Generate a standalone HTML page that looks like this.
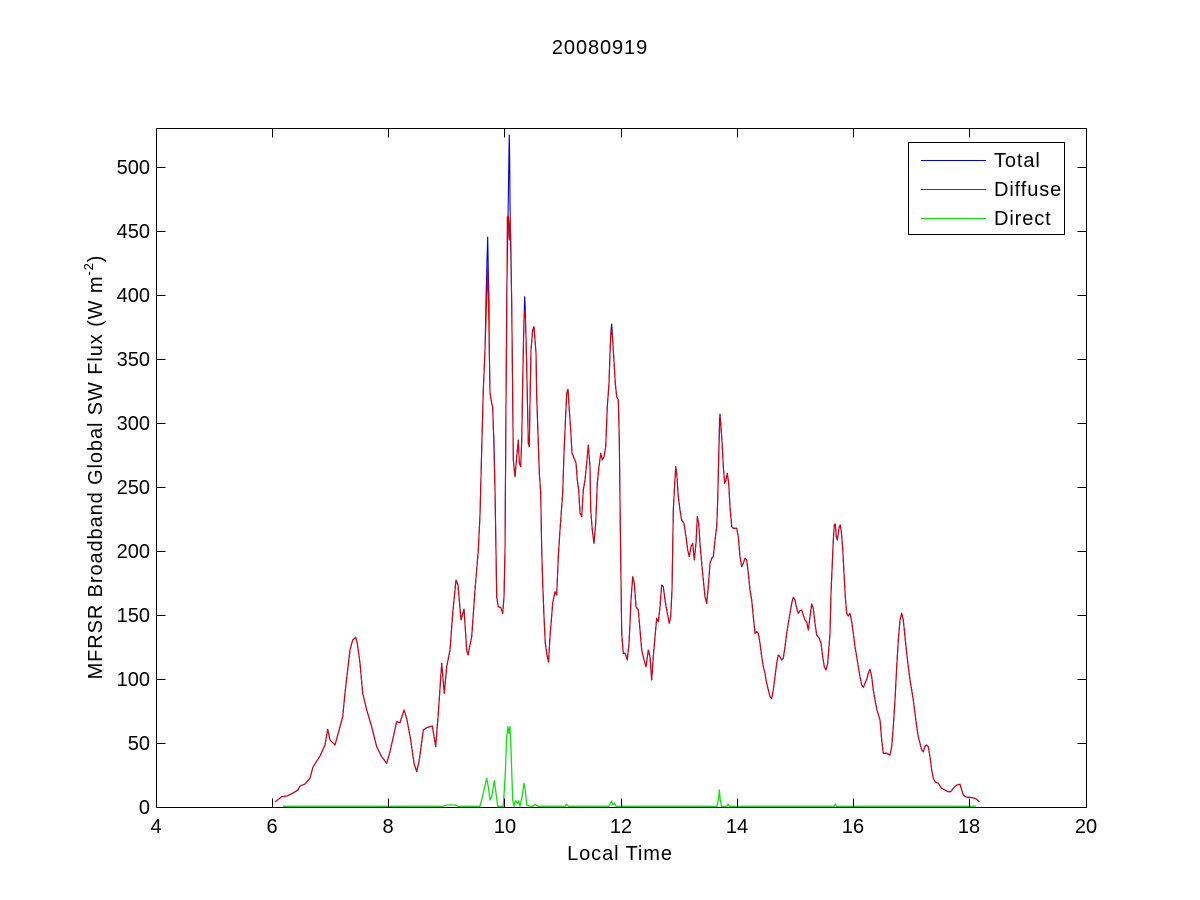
<!DOCTYPE html>
<html>
<head>
<meta charset="utf-8">
<style>
html,body{margin:0;padding:0;background:#fff;}
svg{display:block;}
text{font-family:"Liberation Sans",Arial,sans-serif;fill:#000;}
.ls{letter-spacing:0.9px;}
</style>
</head>
<body>
<svg width="1200" height="900" viewBox="0 0 1200 900" xmlns="http://www.w3.org/2000/svg">
<rect x="0" y="0" width="1200" height="900" fill="#fff"/>

<!-- title -->
<text class="ls" x="600" y="54" font-size="20" text-anchor="middle">20080919</text>

<!-- data: Total (blue) -->
<polyline fill="none" stroke="#0000e0" stroke-width="1.1" stroke-linejoin="round" points="
275,802 281.7,796.7 287,796 293,793 298,790 300,786 305,784 310,778 313,767 320,756 325,745 327.7,729.3 330,740 335,745 338.3,733 342.7,716.7 345,693 347.3,673 350,650 352.7,640 355.7,637.3 357.3,643.3 360,663 362.7,693.3 366.7,710 371.7,726.7 376.7,746.7 381.7,756.7 386.7,763.3 390,751.7 393.3,736.7 396.7,721.7 400,722.7 404,710 406.7,718.3 410.7,740 414,763.3 416.7,771.7 419.3,760 423.3,730 426.7,727.7 432.3,726 435.7,746.7 438.3,713.3 441.7,663.3 444.3,693.3 446.7,666.7 450,650 452.7,613.3 456,580 458,585 461,620 464,609 466.7,650 468,655 471.7,636.7 475,590 478.3,550 480,515 481,476.7 482,438 483.3,390 485,350 486,300 487,260 487.7,237 488.3,270 489,300 489.3,350 490,393 491.7,403 492.7,407 493.3,427 494,440 495,490 496,553 496.7,597 498.3,607 500.7,607.3 502.7,613.3 504,597 505,550 506,403 506.7,300 507.5,250 508.3,200 509,150 509.3,135 509.7,160 510,200 510.7,250 511.7,303 512.3,360 513.3,460 515,476.7 516.7,456.7 518.3,440 519.3,463 520.7,466.7 521.7,440 522.7,383 523.3,350 524,320 524.7,296.7 525.3,310 526,336.7 526.7,366.7 528.3,443.3 529.3,446.7 530,403 531,350 532.7,330 534,326.7 536,353 536.7,396.7 538.3,443.3 539.3,473 540.7,493 541.7,550 542.7,583 544,616.7 545.3,643.3 547,655 548.5,662 550,636.7 552.7,603 555,591.7 556.7,595 558.3,556.7 560,530 562.7,493 564,453 565.3,423.3 566.7,393 568,389.3 569.3,410 570.7,430 572,453 574,458 576,463 577.3,480 578.7,490 580,513 581.7,516.7 583.3,490 585,480 586.7,463 588.3,445 590,466.7 590.7,510 592.3,530 594,543.3 595.7,523.3 597.3,483.3 599,466.7 600.7,453.3 602.3,460 604,456.7 605.7,446.7 607.3,406.7 609,383.3 610,353.3 611,330 611.7,324 612.3,333 613.3,350 614.3,366.7 615.3,383.3 616.7,396.7 618.3,400 619.3,440 620,500 620.7,556.7 621.7,633.3 623.3,653.3 625,653.3 627.3,660 629,643.3 630,623.3 631,600 632.7,576.7 634.3,583.3 636,606.7 638.3,610 640,630 641.7,650 644,660 646,666.7 648.3,650 650,656.7 651.7,680 653.3,656.7 655,636.7 656.7,618.3 658.3,621.7 660,606.7 661.7,585 663.3,586.7 665,600 667.3,613.3 669.3,623.3 670.7,616.7 672,590 673.3,510 674.7,483.3 675.7,466.7 676.7,473.3 678.3,496.7 680,510 681.7,520 684,523.3 686,536.7 687.7,550 689.3,556.7 691,546.7 692.7,543.3 694.3,560 696,543.3 697.3,516.7 698.7,523.3 700,543.3 701.7,563.3 703.3,580 705,596.7 706.7,603.3 708.3,586.7 710,563.3 711.7,558.3 713.3,556.7 715,540 716.7,526.7 717.7,500 718.7,456.7 719.5,420 720,414 721,426.7 722.3,446.7 723.3,466.7 724.7,483.3 726,480 727.3,473.3 728.7,483.3 730,506.7 731.7,526.7 733.3,528.3 736.7,528.3 738.3,536.7 740,556.7 741.7,566.7 743.3,563.3 745,558.3 746.7,560 748.3,573.3 750,590 751.7,600 753.3,616.7 755,633.3 756.7,631.7 758.3,633.3 760,643.3 761.7,656.7 763.3,666.7 765,673.3 766.7,683.3 770,696.7 771.7,698.3 773.3,690 775,676.7 776.7,663.3 778.3,655 780,656.7 781.7,660 783.3,658.3 785,646.7 786.7,633.3 788.3,623.3 790,613.3 791.7,603.3 793.3,597.3 795,600 796.7,608.3 798.3,613.3 800,610.7 801.7,610 803.3,615 805,620 806.7,621.7 808.3,630 810,616.7 811.7,604 813.3,608.3 815,623.3 816.7,635 819.3,638.3 821,643.3 822.7,656.7 824.3,666.7 826,670 827.7,663.3 829,646.7 830,633.3 831,593.3 832.3,563.3 833.3,540 834.3,525 835.3,524 836.3,536.7 837.3,540 838.3,533.3 839.3,526.7 840.3,525 841.3,531.7 842.7,548.3 844,573.3 845.3,596.7 846.7,613.3 848.3,616 850,613.3 851.7,621.7 853.3,633.3 855,646.7 856.7,656.7 858.3,666.7 860,676.7 861.7,685 863.3,687.3 865,683.3 866.7,679.3 868.3,673.3 870,669.3 871.7,676.7 873.3,690 875,700 877,710 880,720 881.7,740 883.3,753.3 886.7,753.3 890,755 891.7,746.7 893.3,726.7 895,700 896.7,666.7 898.3,640 900,620 901.7,613.3 903.3,620 905,636.7 906.7,653.3 908.3,666.7 910,680 911.7,690 913.3,700 915,713.3 916.7,726.7 918.3,736.7 920,743.3 921.7,750 923.3,751.7 925,746.7 926.7,745 928.3,746.7 930,756.7 931.7,770 933.3,778.3 935,781.7 938.3,783.3 941.7,788.3 945,790 948.3,791.7 950.7,791.7 953.3,788.3 956.7,785 960,784.3 961.7,790 963.3,795 966.7,797.3 970,797.3 975,798.3 976.7,799.3 979.3,801.7"/>

<!-- data: Diffuse (red) -->
<polyline fill="none" stroke="#e00000" stroke-width="1.1" stroke-linejoin="round" points="
275,802 281.7,796.7 287,796 293,793 298,790 300,786 305,784 310,778 313,767 320,756 325,745 327.7,729.3 330,740 335,745 338.3,733 342.7,716.7 345,693 347.3,673 350,650 352.7,640 355.7,637.3 357.3,643.3 360,663 362.7,693.3 366.7,710 371.7,726.7 376.7,746.7 381.7,756.7 386.7,763.3 390,751.7 393.3,736.7 396.7,721.7 400,722.7 404,710 406.7,718.3 410.7,740 414,763.3 416.7,771.7 419.3,760 423.3,730 426.7,727.7 432.3,726 435.7,746.7 438.3,713.3 441.7,663.3 444.3,693.3 446.7,666.7 450,650 452.7,613.3 456,580 458,585 461,620 464,609 466.7,650 468,655 471.7,636.7 475,590 478.3,550 480,515 481,476.7 482,438 483.3,390 485,350 486,320 487,290 487.5,265 488,280 489.3,350 490,393 491.7,403 492.7,407 493.3,427 495,490 496,550 496.7,597 498.3,607 500.7,607.3 502.7,613.3 504,597 505,550 506,403 506.7,330 507.3,217 508.3,215 509.3,240 510,217 511,247 511.7,303 512.3,360 513.3,460 515,476.7 516.7,456.7 518.3,440 519.3,463 520.7,466.7 521.7,440 522.7,383 523.3,350 524,318 525,310 526,336.7 526.7,366.7 528.3,443.3 529.3,446.7 530,403 531,350 532.7,330 534,326.7 536,353 536.7,396.7 538.3,443.3 539.3,473 540.7,493 541.7,550 542.7,583 544,616.7 545.3,643.3 547,655 548.5,662 550,636.7 552.7,603 555,591.7 556.7,595 558.3,556.7 560,530 562.7,493 564,453 565.3,423.3 566.7,393 568,389.3 569.3,410 570.7,430 572,453 574,458 576,463 577.3,480 578.7,490 580,513 581.7,516.7 583.3,490 585,480 586.7,463 588.3,445 590,466.7 590.7,510 592.3,530 594,543.3 595.7,523.3 597.3,483.3 599,466.7 600.7,453.3 602.3,460 604,456.7 605.7,446.7 607.3,406.7 609,383.3 610,353.3 611,330 612.3,335 613.3,350 614.3,366.7 615.3,383.3 616.7,396.7 618.3,400 619.3,440 620,500 620.7,556.7 621.7,633.3 623.3,653.3 625,653.3 627.3,660 629,643.3 630,623.3 631,600 632.7,576.7 634.3,583.3 636,606.7 638.3,610 640,630 641.7,650 644,660 646,666.7 648.3,650 650,656.7 651.7,680 653.3,656.7 655,636.7 656.7,618.3 658.3,621.7 660,606.7 661.7,585 663.3,586.7 665,600 667.3,613.3 669.3,623.3 670.7,616.7 672,590 673.3,510 674.7,483.3 675.7,466.7 676.7,473.3 678.3,496.7 680,510 681.7,520 684,523.3 686,536.7 687.7,550 689.3,556.7 691,546.7 692.7,543.3 694.3,560 696,543.3 697.3,516.7 698.7,523.3 700,543.3 701.7,563.3 703.3,580 705,596.7 706.7,603.3 708.3,586.7 710,563.3 711.7,558.3 713.3,556.7 715,540 716.7,526.7 717.7,500 718.7,456.7 720,416.7 721,426.7 722.3,446.7 723.3,466.7 724.7,483.3 726,480 727.3,473.3 728.7,483.3 730,506.7 731.7,526.7 733.3,528.3 736.7,528.3 738.3,536.7 740,556.7 741.7,566.7 743.3,563.3 745,558.3 746.7,560 748.3,573.3 750,590 751.7,600 753.3,616.7 755,633.3 756.7,631.7 758.3,633.3 760,643.3 761.7,656.7 763.3,666.7 765,673.3 766.7,683.3 770,696.7 771.7,698.3 773.3,690 775,676.7 776.7,663.3 778.3,655 780,656.7 781.7,660 783.3,658.3 785,646.7 786.7,633.3 788.3,623.3 790,613.3 791.7,603.3 793.3,597.3 795,600 796.7,608.3 798.3,613.3 800,610.7 801.7,610 803.3,615 805,620 806.7,621.7 808.3,630 810,616.7 811.7,604 813.3,608.3 815,623.3 816.7,635 819.3,638.3 821,643.3 822.7,656.7 824.3,666.7 826,670 827.7,663.3 829,646.7 830,633.3 831,593.3 832.3,563.3 833.3,540 834.3,525 835.3,524 836.3,536.7 837.3,540 838.3,533.3 839.3,526.7 840.3,525 841.3,531.7 842.7,548.3 844,573.3 845.3,596.7 846.7,613.3 848.3,616 850,613.3 851.7,621.7 853.3,633.3 855,646.7 856.7,656.7 858.3,666.7 860,676.7 861.7,685 863.3,687.3 865,683.3 866.7,679.3 868.3,673.3 870,669.3 871.7,676.7 873.3,690 875,700 877,710 880,720 881.7,740 883.3,753.3 886.7,753.3 890,755 891.7,746.7 893.3,726.7 895,700 896.7,666.7 898.3,640 900,620 901.7,613.3 903.3,620 905,636.7 906.7,653.3 908.3,666.7 910,680 911.7,690 913.3,700 915,713.3 916.7,726.7 918.3,736.7 920,743.3 921.7,750 923.3,751.7 925,746.7 926.7,745 928.3,746.7 930,756.7 931.7,770 933.3,778.3 935,781.7 938.3,783.3 941.7,788.3 945,790 948.3,791.7 950.7,791.7 953.3,788.3 956.7,785 960,784.3 961.7,790 963.3,795 966.7,797.3 970,797.3 975,798.3 976.7,799.3 979.3,801.7"/>

<!-- data: Direct (green) -->
<polyline fill="none" stroke="#11dd11" stroke-width="1.3" stroke-linejoin="round" points="
283,806.3 443,806.3 447,805 455,805 458,806.3 480,806.3 483.3,793 486.7,778.3 488.3,786.7 490,800 491.7,796.7 494.3,780.7 496,793 497.7,806.3 503.3,806.3 505.3,773.3 506.7,736.7 508,726.7 509,733.3 510,726.7 511,750 512.7,800 514,806.3 515.3,800.7 517.3,803.3 518.7,800.7 520,806.3 522,796.7 524,783.3 525.3,790 526.7,805 530,806.3 533,806.3 535,804.3 538.3,806.3 565,806.3 566.7,804.3 568.5,806.3 609,806.3 610.5,803 611.5,801 613,805 614.5,803 616,806.3 717,806.3 718.5,799 719.3,790 720.3,800 721.5,806.3 727,806.3 728,804 729,806.3 834,806.3 835.3,804 836.5,806.3 975.7,806.3"/>

<!-- axes box -->
<g stroke="#000" stroke-width="1" fill="none" shape-rendering="crispEdges">
<rect x="156.5" y="128.5" width="930" height="679"/>
<path d="M272.5,807.5v-9M388.5,807.5v-9M504.5,807.5v-9M621.5,807.5v-9M737.5,807.5v-9M853.5,807.5v-9M969.5,807.5v-9
M272.5,128.5v9M388.5,128.5v9M504.5,128.5v9M621.5,128.5v9M737.5,128.5v9M853.5,128.5v9M969.5,128.5v9"/>
<path d="M156.5,743.5h9M156.5,679.5h9M156.5,615.5h9M156.5,551.5h9M156.5,487.5h9M156.5,423.5h9M156.5,359.5h9M156.5,295.5h9M156.5,231.5h9M156.5,167.5h9
M1086.5,743.5h-9M1086.5,679.5h-9M1086.5,615.5h-9M1086.5,551.5h-9M1086.5,487.5h-9M1086.5,423.5h-9M1086.5,359.5h-9M1086.5,295.5h-9M1086.5,231.5h-9M1086.5,167.5h-9"/>
</g>

<!-- y tick labels -->
<g font-size="20" text-anchor="end">
<text x="150" y="814">0</text>
<text x="150" y="750">50</text>
<text x="150" y="686">100</text>
<text x="150" y="622">150</text>
<text x="150" y="558">200</text>
<text x="150" y="494">250</text>
<text x="150" y="430">300</text>
<text x="150" y="366">350</text>
<text x="150" y="302">400</text>
<text x="150" y="238">450</text>
<text x="150" y="174">500</text>
</g>

<!-- x tick labels -->
<g font-size="20" text-anchor="middle">
<text x="156" y="833">4</text>
<text x="272" y="833">6</text>
<text x="388" y="833">8</text>
<text x="505" y="833">10</text>
<text x="621" y="833">12</text>
<text x="737" y="833">14</text>
<text x="853" y="833">16</text>
<text x="969" y="833">18</text>
<text x="1086" y="833">20</text>
</g>

<!-- axis labels -->
<text class="ls" x="620" y="860" font-size="20" text-anchor="middle">Local Time</text>
<text class="ls" transform="translate(102,467) rotate(-90)" font-size="20" text-anchor="middle">MFRSR Broadband Global SW Flux (W m<tspan font-size="13" dy="-9">-2</tspan><tspan dy="9">)</tspan></text>

<!-- legend -->
<rect x="908.5" y="142.5" width="156" height="92" fill="#fff" stroke="#000" stroke-width="1" shape-rendering="crispEdges"/>
<line x1="921" y1="160.5" x2="986" y2="160.5" stroke="#0000e0" stroke-width="1.1"/>
<line x1="921" y1="189.5" x2="986" y2="189.5" stroke="#e00000" stroke-width="1.1"/>
<line x1="921" y1="218.5" x2="986" y2="218.5" stroke="#11dd11" stroke-width="1.3"/>
<g font-size="20" class="ls">
<text x="994" y="167">Total</text>
<text x="994" y="196">Diffuse</text>
<text x="994" y="225">Direct</text>
</g>
</svg>
</body>
</html>
